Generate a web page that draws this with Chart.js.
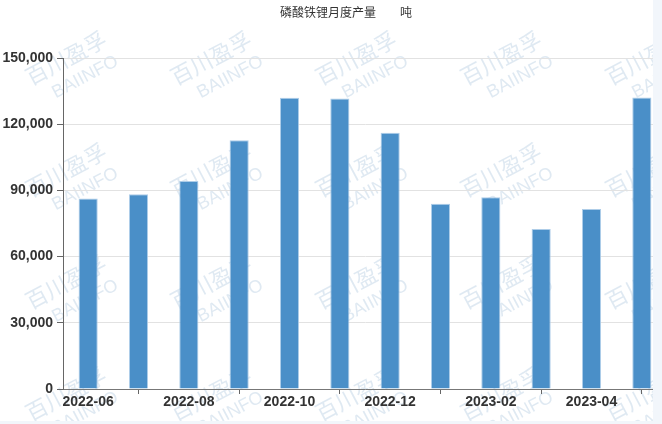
<!DOCTYPE html>
<html>
<head>
<meta charset="utf-8">
<script src="https://cdn.jsdelivr.net/npm/chart.js@4"></script>
<style>
  html, body { margin: 0; padding: 0; overflow: hidden; background: #f2f6fb; }
  #box { position: absolute; left: 0; top: 0; width: 653px; height: 421px; overflow: hidden; background: #ffffff; }
  canvas { display: block; }
</style>
</head>
<body>
<div id="box"><canvas id="chart" width="680" height="421"></canvas></div>
<script>
// =====================
// DATA
// =====================
const months = [
  "2022-06", "2022-07", "2022-08", "2022-09", "2022-10", "2022-11",
  "2022-12", "2023-01", "2023-02", "2023-03", "2023-04", "2023-05"
];
const output = [86300, 88200, 94300, 112700, 132000, 131700, 116100, 83900, 86900, 72500, 81600, 132100];
const yTicks = [0, 30000, 60000, 90000, 120000, 150000];
const titleText = "磷酸铁锂月度产量　　吨";

const BAR = "#4a8fc8";
const TEXT = "#333333";

// =====================
// PLUGINS
// =====================
const watermark = {
  id: "watermark",
  beforeDraw(chart) {
    const ctx = chart.ctx;
    ctx.save();
    ctx.fillStyle = "rgba(170,196,222,0.38)";
    ctx.textAlign = "center";
    ctx.textBaseline = "middle";
    for (let row = 0; row < 4; row++) {
      for (let col = 0; col < 5; col++) {
        const cx = 66 + col * 145;
        const cy = 58 + row * 112;
        ctx.save();
        ctx.translate(cx, cy);
        ctx.rotate(-28 * Math.PI / 180);
        ctx.font = "22px 'Noto Sans CJK SC'";
        ctx.fillText("百川盈孚", 0, 0);
        ctx.font = "18px 'Liberation Sans'";
        ctx.fillText("BAIINFO", 8, 26);
        ctx.restore();
      }
    }
    ctx.restore();
  }
};

const titleDraw = {
  id: "titleDraw",
  afterDraw(chart) {
    const ctx = chart.ctx;
    ctx.save();
    ctx.fillStyle = TEXT;
    ctx.font = "12px 'Noto Sans CJK SC'";
    ctx.textAlign = "center";
    ctx.textBaseline = "middle";
    ctx.fillText(titleText, 346, 12);
    ctx.restore();
  }
};

// =====================
// CHART
// =====================
new Chart(document.getElementById("chart"), {
  type: "bar",
  data: {
    labels: months,
    datasets: [{
      data: output,
      backgroundColor: BAR,
      borderColor: "rgba(165,200,230,0.9)",
      borderWidth: 1,
      barPercentage: 0.38,
      categoryPercentage: 1
    }]
  },
  options: {
    responsive: false,
    animation: false,
    layout: { padding: { top: 58, left: 2.4, right: 13, bottom: 10.2 } },
    plugins: {
      legend: { display: false },
      title: { display: false },
      tooltip: { enabled: false }
    },
    scales: {
      x: {
        offset: true,
        grid: {
          offset: false,
          drawOnChartArea: false,
          tickLength: 5,
          tickColor: c => (c.index % 2 === 1 ? "#666666" : "rgba(0,0,0,0)")
        },
        border: { color: "#777777", width: 1 },
        ticks: {
          autoSkip: false,
          maxRotation: 0,
          padding: 0,
          color: TEXT,
          font: { family: "'Liberation Sans', Arial", size: 14, weight: "bold" },
          callback: (v, i) => (i % 2 === 0 ? months[i] : "")
        }
      },
      y: {
        min: yTicks[0],
        max: yTicks[yTicks.length - 1],
        afterBuildTicks: axis => { axis.ticks = yTicks.map(v => ({ value: v })); },
        afterFit: axis => { axis.width = 60.6; },
        grid: { color: "#e2e2e2", tickLength: 6, tickColor: "#666666" },
        border: { color: "#666666", width: 1 },
        ticks: {
          padding: 4,
          color: TEXT,
          font: { family: "'Liberation Sans', Arial", size: 14, weight: "bold" },
          callback: v => v.toLocaleString("en-US")
        }
      }
    }
  },
  plugins: [watermark, titleDraw]
});
</script>
</body>
</html>
